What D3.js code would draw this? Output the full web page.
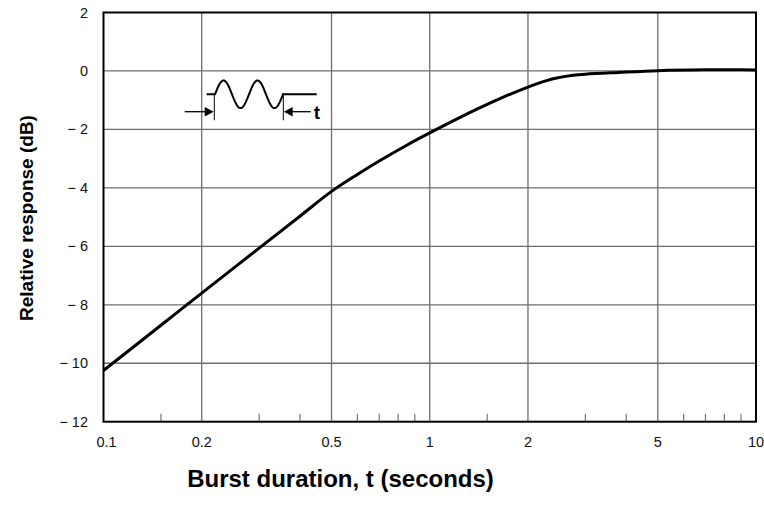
<!DOCTYPE html>
<html lang="en">
<head>
<meta charset="utf-8">
<title>Burst response</title>
<style>
  body { margin: 0; background: #fff; }
  svg { display: block; }
  .grid { stroke: #6e6e6e; stroke-width: 1.3px; }
  .frame { fill: none; stroke: #000; stroke-width: 2px; }
  .curve { fill: none; stroke: #000; stroke-width: 3px; stroke-linejoin: round; }
  .tick { font-family: "Liberation Sans", Arial, sans-serif; font-size: 14.5px; fill: #111; }
  .title { font-family: "Liberation Sans", Arial, sans-serif; font-weight: bold; fill: #000; }
</style>
</head>
<body>
<svg width="764" height="506"></svg>
<script src="https://cdn.jsdelivr.net/npm/d3@7"></script>
<script>
// burst duration (s) and relative response (dB)
var duration = [0.1, 0.15, 0.2, 0.3, 0.4, 0.5, 0.6, 0.7, 0.85, 1, 1.4, 1.66, 2, 2.28, 2.43, 2.75, 3.0, 3.8, 5, 7, 9, 10];
var response = [-10.25, -8.7, -7.6, -6.06, -4.97, -4.12, -3.54, -3.08, -2.54, -2.12, -1.3, -0.92, -0.55, -0.33, -0.25, -0.15, -0.11, -0.05, 0.01, 0.04, 0.04, 0.03];

var xMajor = [0.1, 0.2, 0.5, 1, 2, 5, 10];
var xMinor = [0.15, 0.3, 0.4, 0.6, 0.7, 0.8, 0.9, 1.5, 3, 4, 6, 7, 8, 9];
var yTicks = [2, 0, -2, -4, -6, -8, -10, -12];

var svg = d3.select("svg");

var x = d3.scaleLog().domain([0.1, 10]).range([103.5, 756]);
var y = d3.scaleLinear().domain([-12, 2]).range([421.7, 12.5]);

// grid
svg.selectAll("line.vgrid")
   .data(xMajor.slice(1, -1))
   .enter().append("line")
   .attr("class", "grid")
   .attr("x1", function(d) { return x(d); })
   .attr("x2", function(d) { return x(d); })
   .attr("y1", y(2)).attr("y2", y(-12));

svg.selectAll("line.hgrid")
   .data(yTicks.slice(1, -1))
   .enter().append("line")
   .attr("class", "grid")
   .attr("x1", x(0.1)).attr("x2", x(10))
   .attr("y1", function(d) { return y(d); })
   .attr("y2", function(d) { return y(d); });

// minor ticks pointing up from the bottom edge
svg.selectAll("line.minor")
   .data(xMinor)
   .enter().append("line")
   .attr("stroke", "#777")
   .attr("stroke-width", 1.2)
   .attr("x1", function(d) { return x(d); })
   .attr("x2", function(d) { return x(d); })
   .attr("y1", y(-12)).attr("y2", y(-12) - 8);

svg.append("rect")
   .attr("class", "frame")
   .attr("x", x(0.1)).attr("y", y(2))
   .attr("width", x(10) - x(0.1))
   .attr("height", y(-12) - y(2));

// tick labels
svg.selectAll("text.xl")
   .data(xMajor)
   .enter().append("text")
   .attr("class", "tick")
   .attr("text-anchor", "middle")
   .attr("x", function(d) { return x(d) + (d == 0.1 ? 3 : 0); })
   .attr("y", 447)
   .text(function(d) { return d; });

svg.selectAll("text.yl")
   .data(yTicks)
   .enter().append("text")
   .attr("class", "tick")
   .attr("text-anchor", "end")
   .attr("x", 88)
   .attr("y", function(d) { return y(d) + 5; })
   .text(function(d) { return d < 0 ? "\u2212 " + Math.abs(d) : d; });

// curve
var line = d3.line()
   .x(function(d, i) { return x(duration[i]); })
   .y(function(d) { return y(d); })
   .curve(d3.curveCatmullRom.alpha(0.5));

svg.append("path")
   .attr("class", "curve")
   .attr("d", line(response));

// axis titles
svg.append("text")
   .attr("class", "title")
   .attr("font-size", 19)
   .attr("text-anchor", "middle")
   .attr("transform", "translate(33,218) rotate(-90)")
   .text("Relative response (dB)");

svg.append("text")
   .attr("class", "title")
   .attr("font-size", 24)
   .attr("text-anchor", "middle")
   .style("font-family", "'Liberation Sans Narrow', 'Arial Narrow', 'Liberation Sans', sans-serif")
   .attr("x", 340.5).attr("y", 487)
   .text("Burst duration, t (seconds)");

// tone burst sketch
var g = svg.append("g").attr("transform", "translate(206.7,94.3)");
var wave = d3.range(0, 68.5, 0.5).map(function(t) {
    return [8.3 + t, -13.8 * Math.sin(2 * Math.PI * t / 34)];
});
g.append("path")
 .attr("fill", "none").attr("stroke", "#000").attr("stroke-width", 2)
 .attr("d", d3.line()([[0, 0], [8.3, 0]].concat(wave).concat([[110, 0]])));

g.selectAll("line.mark")
 .data([7.6, 76.6])
 .enter().append("line")
 .attr("stroke", "#000").attr("stroke-width", 1)
 .attr("x1", function(d) { return d; }).attr("x2", function(d) { return d; })
 .attr("y1", -1).attr("y2", 26);

g.append("line").attr("stroke", "#000").attr("stroke-width", 1.3)
 .attr("x1", -22).attr("x2", 0).attr("y1", 17.4).attr("y2", 17.4);
g.append("path").attr("fill", "#000").attr("d", "M7,17.4 L-2,12.6 L-2,22.2 Z");

g.append("line").attr("stroke", "#000").attr("stroke-width", 1.3)
 .attr("x1", 85).attr("x2", 104).attr("y1", 17.4).attr("y2", 17.4);
g.append("path").attr("fill", "#000").attr("d", "M77.2,17.4 L86,12.6 L86,22.2 Z");

g.append("text")
 .attr("class", "title")
 .attr("font-size", 19)
 .attr("x", 107).attr("y", 24.5)
 .text("t");
</script>
</body>
</html>
